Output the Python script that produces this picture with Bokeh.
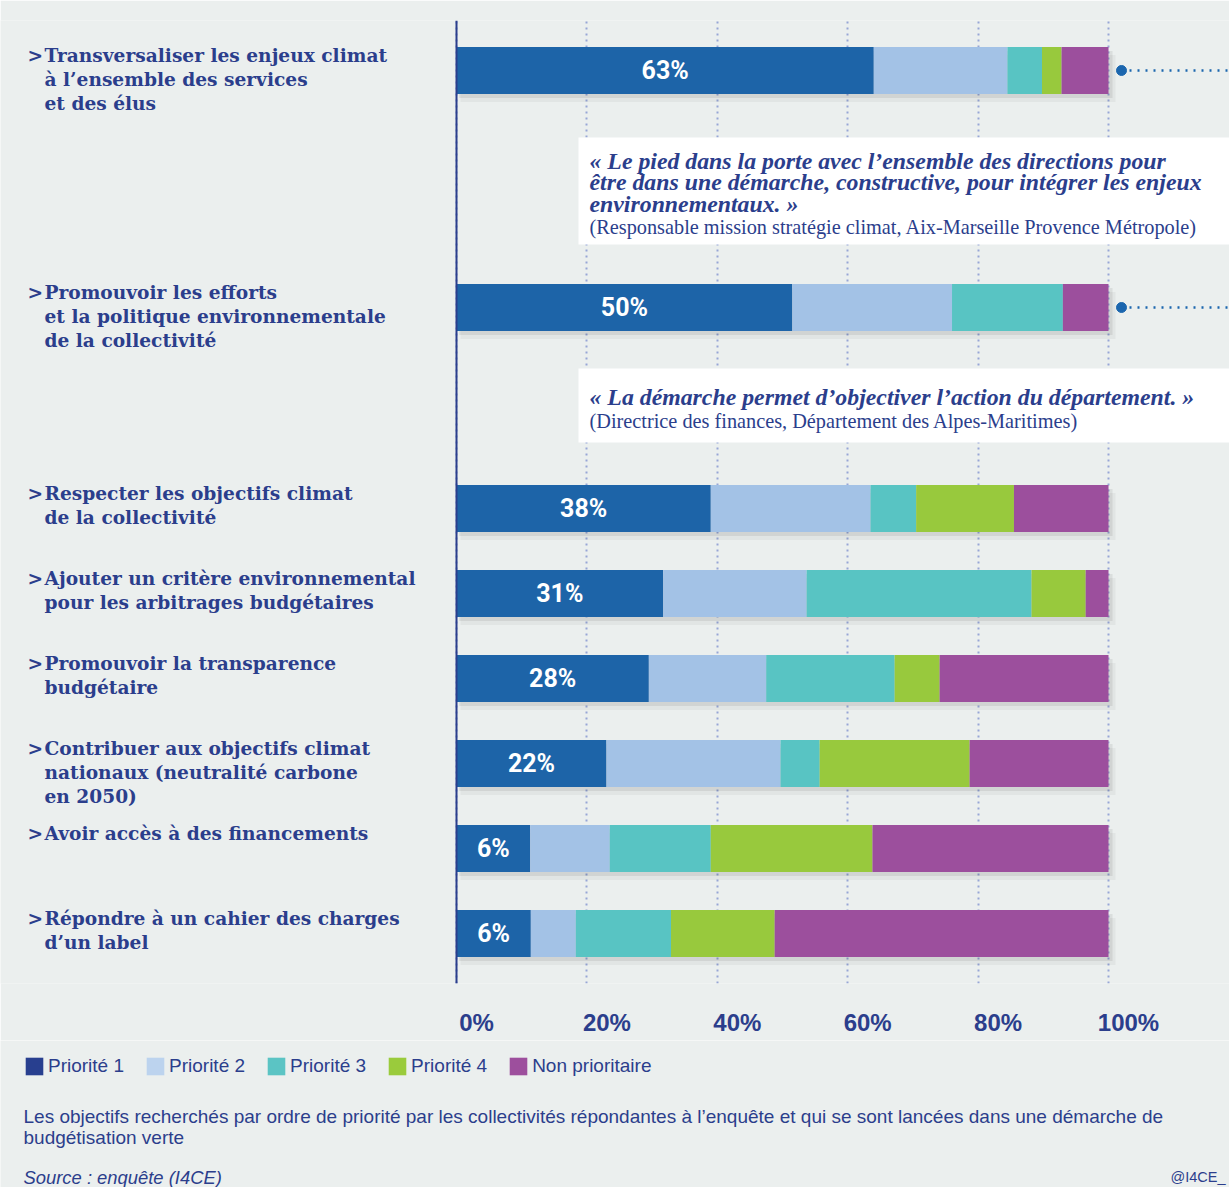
from bokeh.plotting import figure
from bokeh.layouts import column
from bokeh.models import (FactorRange, Range1d, LinearAxis, FixedTicker, Grid, Span,
                          Label, ColumnDataSource, Legend, LegendItem)
from bokeh.core.properties import value
from bokeh.embed import file_html
from bokeh.resources import INLINE

# ---------------- data ----------------
categories = [
    "Transversaliser les enjeux climat\nà l’ensemble des services\net des élus",
    "Promouvoir les efforts\net la politique environnementale\nde la collectivité",
    "Respecter les objectifs climat\nde la collectivité",
    "Ajouter un critère environnemental\npour les arbitrages budgétaires",
    "Promouvoir la transparence\nbudgétaire",
    "Contribuer aux objectifs climat\nnationaux (neutralité carbone\nen 2050)",
    "Avoir accès à des financements",
    "Répondre à un cahier des charges\nd’un label",
]
priorite_1 = [64.0, 51.5, 39.0, 31.7, 29.5, 23.0, 11.3, 11.4]
priorite_2 = [20.5, 24.5, 24.5, 22.0, 18.0, 26.7, 12.2, 6.9]
priorite_3 = [5.3, 17.0, 7.0, 34.5, 19.7, 6.0, 15.5, 14.6]
priorite_4 = [3.0, 0.0, 15.0, 8.3, 6.9, 23.0, 24.8, 15.9]
non_prioritaire = [7.2, 7.0, 14.5, 3.5, 25.9, 21.3, 36.2, 51.2]
priorite_1_labels = ["63%", "50%", "38%", "31%", "28%", "22%", "6%", "6%"]
series_names = ["Priorité 1", "Priorité 2", "Priorité 3", "Priorité 4", "Non prioritaire"]
tick_values = [0, 20, 40, 60, 80, 100]
tick_labels = ["0%", "20%", "40%", "60%", "80%", "100%"]
quote_1 = ("« Le pied dans la porte avec l’ensemble des directions pour\n"
           "être dans une démarche, constructive, pour intégrer les enjeux\n"
           "environnementaux. »")
source_1 = "(Responsable mission stratégie climat, Aix-Marseille Provence Métropole)"
quote_2 = "« La démarche permet d’objectiver l’action du département. »"
source_2 = "(Directrice des finances, Département des Alpes-Maritimes)"
caption = ("Les objectifs recherchés par ordre de priorité par les collectivités répondantes à l’enquête et qui se sont lancées dans une démarche de\n"
           "budgétisation verte")
source_text = "Source : enquête (I4CE)"
credit = "@I4CE_"

# ---------------- style ----------------
colors = ["#1d64a8", "#a3c2e6", "#58c4c3", "#98c93d", "#9c4f9d"]
legend_colors = ["#283f8f", "#bcd3ee", "#5bc4c4", "#9acb3c", "#9d4f9d"]
navy = "#2b3e8c"
bg = "#ebefee"
W = 1229
H1, H2 = 1040, 147
PX_PER_PCT = 6.52
ZERO_PX = 456            # 0% position inside the figure
FRAME_TOP, FRAME_H = 20, 963
U = 47.0                 # pixels per factor unit

x_start = -ZERO_PX / PX_PER_PCT
x_end = x_start + W / PX_PER_PCT

def px_to_x(px):
    return (px - ZERO_PX) / PX_PER_PCT

# factor keys: layout groups give the uneven spacing around the quotes
keys = [("A", "a", categories[0]), ("B", "a", categories[1])] + \
       [("B", "b", c) for c in categories[2:]]

y_range = FactorRange(
    factors=list(reversed(keys)),
    factor_padding=85 / U - 1,
    subgroup_padding=201 / U - 1,
    group_padding=237 / U - 1,
    range_padding=50 / U - 0.5,
    range_padding_units="absolute",
)

p = figure(width=W, height=H1, x_range=Range1d(x_start, x_end), y_range=y_range,
           x_axis_location=None, y_axis_location=None,
           min_border_left=0, min_border_right=0, min_border_top=FRAME_TOP,
           min_border_bottom=H1 - FRAME_TOP - FRAME_H,
           background_fill_color=bg, border_fill_color=bg, outline_line_color=None,
           output_backend="svg", toolbar_location=None)
for g in p.grid:
    g.visible = False

# grid
p.add_layout(Grid(dimension=0, ticker=FixedTicker(ticks=tick_values),
                  grid_line_color="#97a6d6", grid_line_dash="2 4", grid_line_width=2))

# axis labels (shifted range so the labels sit right of their gridline, as in the original)
shift = 20 / PX_PER_PCT
p.extra_x_ranges = {"lab": Range1d(x_start - shift, x_end - shift)}
xaxis = LinearAxis(x_range_name="lab", ticker=FixedTicker(ticks=tick_values),
                   major_label_overrides=dict(zip(tick_values, tick_labels)),
                   axis_line_color=None, major_tick_line_color=None, minor_tick_line_color=None,
                   major_tick_out=0, major_tick_in=0, minor_tick_out=0, minor_tick_in=0,
                   major_label_standoff=25, major_label_text_font="Liberation Sans",
                   major_label_text_font_size="24px", major_label_text_font_style="bold",
                   major_label_text_color=navy)
p.add_layout(xaxis, "below")

totals = [a + b + c + d + e for a, b, c, d, e in
          zip(priorite_1, priorite_2, priorite_3, priorite_4, non_prioritaire)]
src = ColumnDataSource(dict(
    y=keys, p1=priorite_1, p2=priorite_2, p3=priorite_3, p4=priorite_4, np_=non_prioritaire,
    lab=priorite_1_labels, lab_x=[v / 2 for v in priorite_1],
    cat=categories, cat_y=[k + (0.5 + 2 / U,) for k in keys],
    shadow_y1=[k + (-4 / U,) for k in keys], shadow_y2=[k + (-8 / U,) for k in keys],
    shadow_r1=[t + 4 / PX_PER_PCT for t in totals], shadow_r2=[t + 7 / PX_PER_PCT for t in totals],
))

# quote boxes
qsrc = ColumnDataSource(dict(
    top=[keys[0] + (-67 / U,), keys[1] + (-61 / U,)],
    bottom=[keys[0] + (-174 / U,), keys[1] + (-135 / U,)],
))
p.quad(left=px_to_x(578), right=x_end + 5, top="top", bottom="bottom",
       source=qsrc, fill_color="white", line_color=None)

# soft drop shadow under the bars
p.hbar(y="shadow_y2", left=0.6, right="shadow_r2", height=1.0, source=src,
       fill_color="#000000", fill_alpha=0.04, line_color=None)
p.hbar(y="shadow_y1", left=0.4, right="shadow_r1", height=1.0, source=src,
       fill_color="#000000", fill_alpha=0.07, line_color=None)

bars = p.hbar_stack(["p1", "p2", "p3", "p4", "np_"], y="y", height=1.0, color=colors,
                    line_color=None, source=src)

p.add_layout(Span(location=0, dimension="height", line_color=navy, line_width=2))

# percentage labels
p.text(x="lab_x", y="y", text="lab", source=src, text_align="center", text_baseline="middle",
       text_color="white", text_font=value("Roboto"), text_font_style="bold",
       text_font_size="25px")

# category labels
p.text(x=px_to_x(27), y="cat_y", text=value(">"), source=src, text_baseline="top",
       text_color=navy, text_font=value("DejaVu Serif"), text_font_style="bold",
       text_font_size="18.6px")
p.text(x=px_to_x(44), y="cat_y", text="cat", source=src, text_baseline="top",
       text_color=navy, text_font=value("DejaVu Serif"), text_font_style="bold",
       text_font_size="18.6px", text_line_height=1.14)

# quotes
qx = px_to_x(589)
p.text(x=[qx, qx], y=[keys[0] + (-77 / U,), keys[1] + (-76 / U,)], text=[quote_1, quote_2],
       text_baseline="top", text_color=navy, text_font=value("Liberation Serif"),
       text_font_style="bold italic", text_font_size="23.8px", text_line_height=0.84)
p.text(x=[qx, qx], y=[keys[0] + (-146 / U,), keys[1] + (-102 / U,)], text=[source_1, source_2],
       text_baseline="top", text_color=navy, text_font=value("Liberation Serif"),
       text_font_size="20.3px")

# connectors
cx = px_to_x(1121)
p.scatter(x=[cx, cx], y=keys[:2], size=10, color="#1b66ae")
p.segment(x0=[cx, cx], x1=[x_end, x_end], y0=keys[:2], y1=keys[:2],
          line_color="#1b66ae", line_width=2.5, line_dash="2 6")

# ---------------- footer: legend + notes ----------------
p2 = figure(width=W, height=H2, x_range=Range1d(0, W), y_range=Range1d(0, H2),
            x_axis_location=None, y_axis_location=None,
            min_border_left=0, min_border_right=0, min_border_top=0, min_border_bottom=0,
            background_fill_color=bg, border_fill_color=bg, outline_line_color=None,
            output_backend="svg", toolbar_location=None)
for g in p2.grid:
    g.visible = False

nan = float("nan")
swatches = [p2.rect(x=[nan], y=[nan], width=1, height=1, fill_color=c, line_color=None)
            for c in legend_colors]
legend = Legend(items=[LegendItem(label=n, renderers=[r]) for n, r in zip(series_names, swatches)],
                orientation="horizontal", location=(23, 110), glyph_width=22, glyph_height=22,
                label_standoff=3, spacing=20, padding=0, margin=0,
                background_fill_alpha=0, border_line_alpha=0,
                label_text_font="Liberation Sans", label_text_font_size="19px",
                label_text_color=navy)
p2.add_layout(legend)

p2.add_layout(Label(x=23, y=82, x_units="screen", y_units="screen", text=caption,
                    text_baseline="top", text_color=navy, text_font="Liberation Sans",
                    text_font_size="19px", text_line_height=1.0))
p2.add_layout(Label(x=23, y=21, x_units="screen", y_units="screen", text=source_text,
                    text_baseline="top", text_color=navy, text_font="Liberation Sans",
                    text_font_size="18.4px", text_font_style="italic"))
p2.add_layout(Label(x=1225, y=19, x_units="screen", y_units="screen", text=credit,
                    text_align="right", text_baseline="top", text_color=navy,
                    text_font="Liberation Sans", text_font_size="14.5px"))

layout = column(p, p2, spacing=0)
open("out.html", "w").write(file_html(layout, INLINE))
